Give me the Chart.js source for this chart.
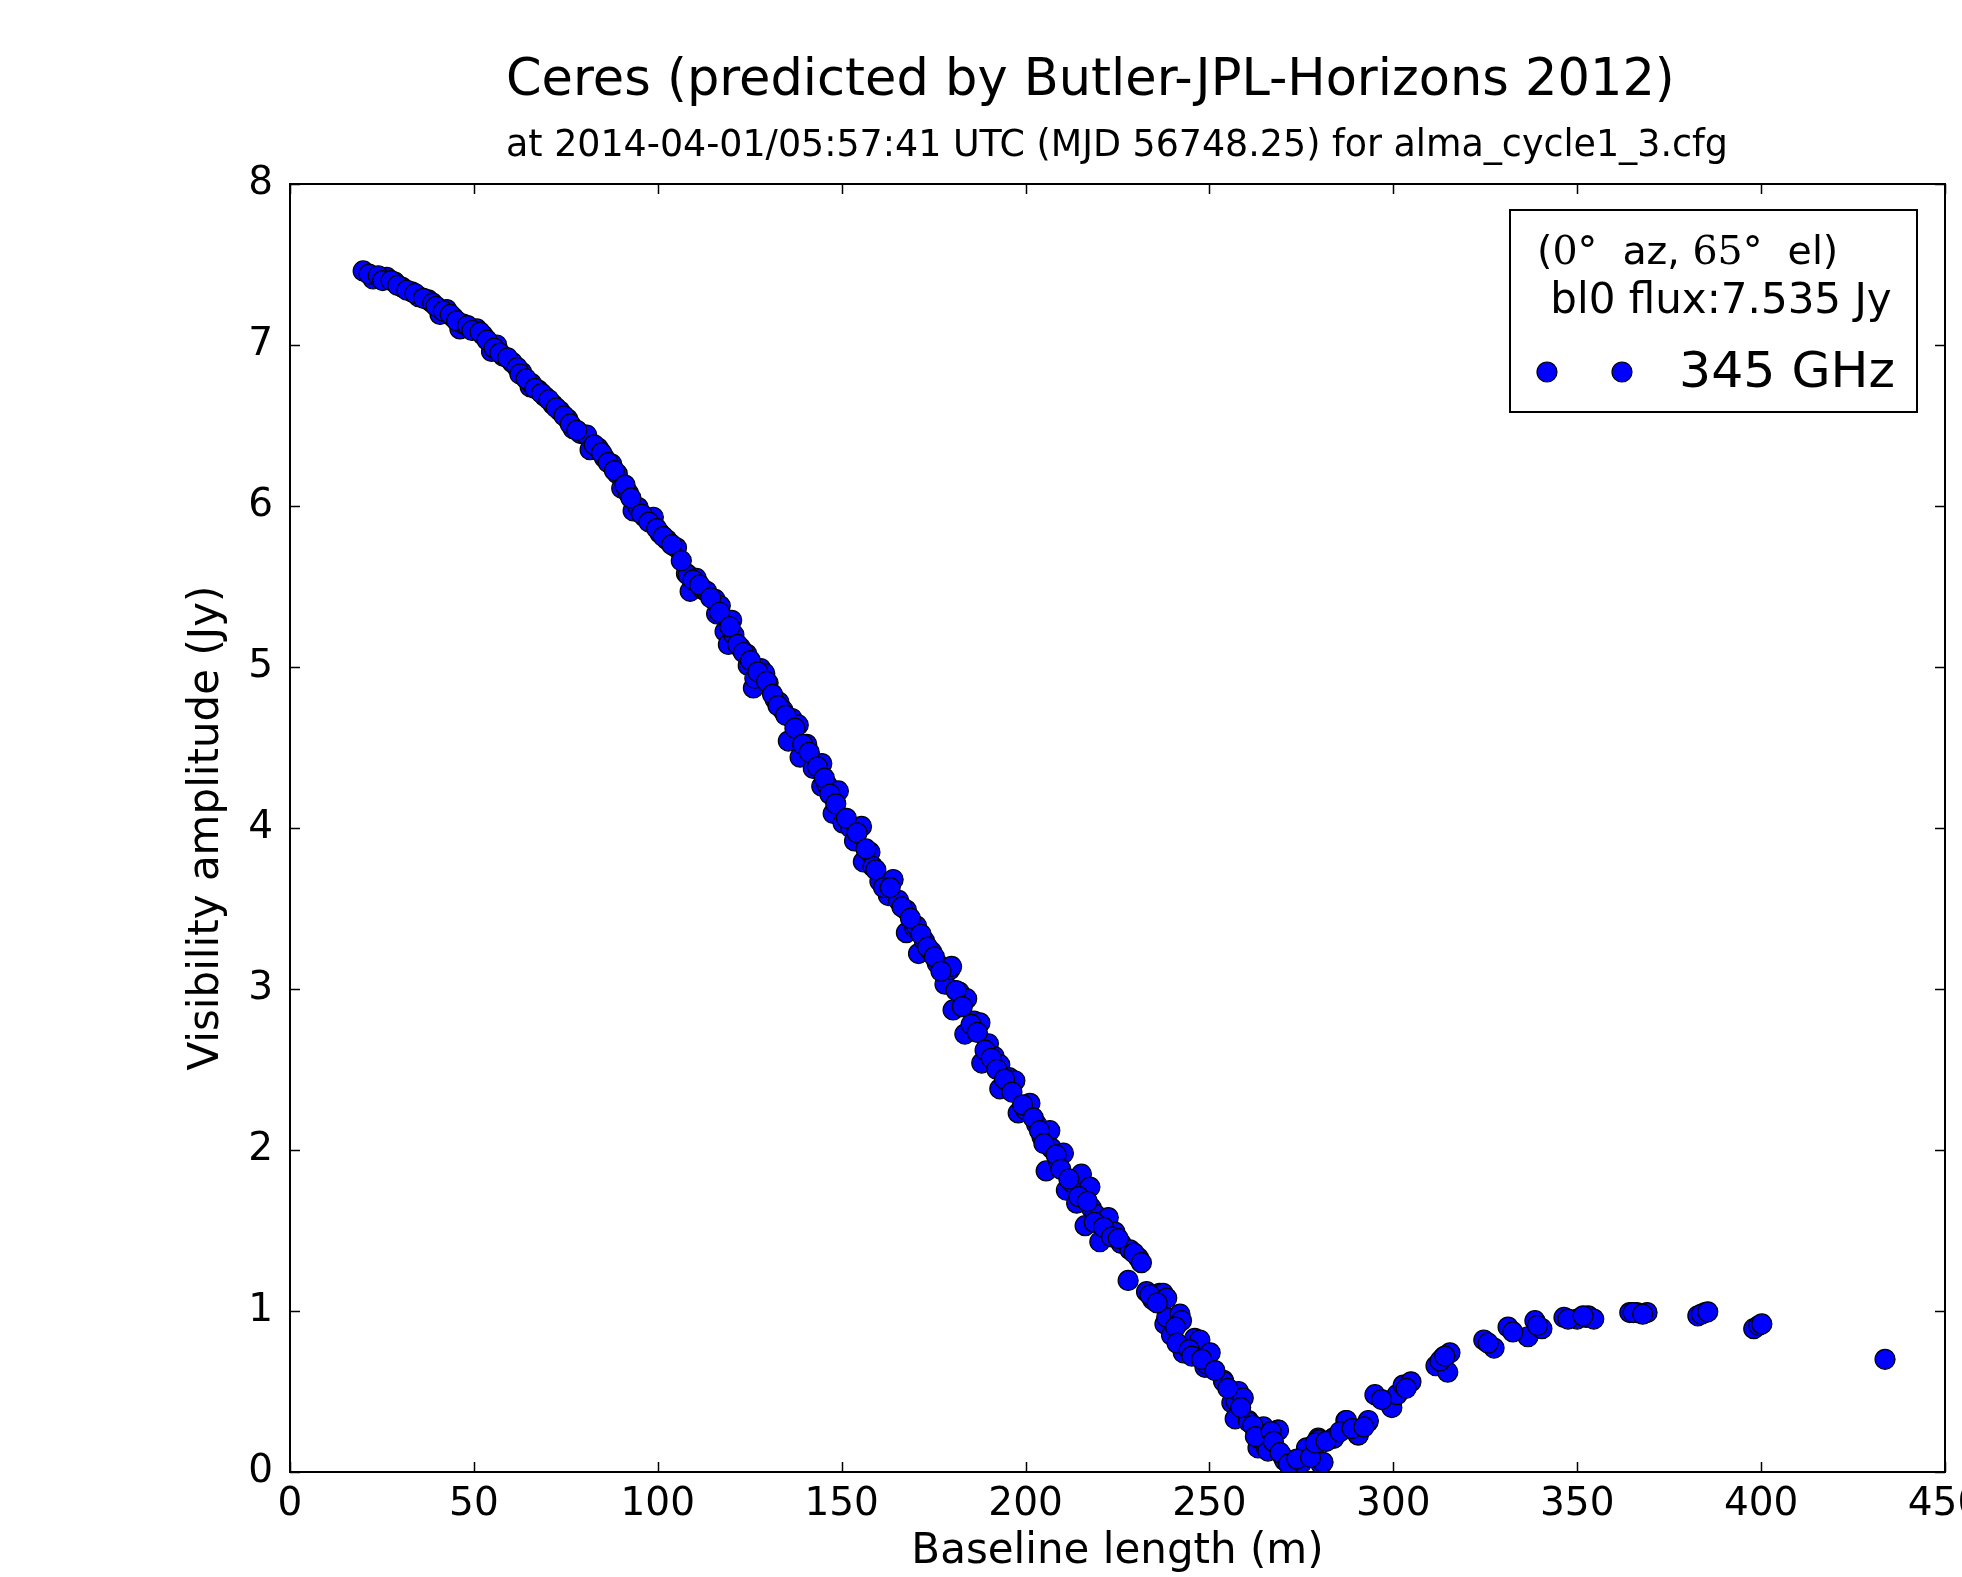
<!DOCTYPE html>
<html lang="en">
<head>
    <meta charset="UTF-8">
    <title>Ceres visibility amplitude</title>
    <script src="https://cdn.jsdelivr.net/npm/chart.js"></script>
    <style>
        body { margin: 0; background: #fff; }
        canvas { display: block; }
    </style>
</head>
<body>
    <canvas id="visChart" width="1962" height="1577"></canvas>

    <script>
        // Baseline length (m) and visibility amplitude (Jy)
        const baseline = [
            19.9, 22.6, 26.3, 28.5, 30.4, 33.1, 35.0, 37.6, 40.8, 42.6, 44.5, 46.2, 47.1, 50.8, 52.5,
            54.8, 56.2, 58.0, 60.5, 63.0, 65.3, 65.7, 67.5, 69.3, 71.5, 73.4, 75.5, 77.0, 79.0, 80.7,
            81.6, 83.8, 85.5, 87.5, 89.0, 90.2, 92.0, 93.3, 94.7, 96.5, 98.8, 100.6, 102.5, 105.1, 107.8,
            108.3, 108.8, 110.5, 112.4, 113.3, 115.6, 116.0, 117.0, 118.3, 119.2, 120.1, 120.7, 122.5, 124.2, 124.6,
            126.0, 126.4, 128.0, 129.1, 130.0, 131.9, 133.0, 134.1, 135.5, 136.5, 138.2, 138.7, 140.5, 142.3, 144.6,
            144.6, 146.0, 147.7, 149.1, 150.4, 152.5, 153.5, 155.4, 155.9, 157.7, 158.5, 160.4, 162.7, 164.0, 165.5,
            167.6, 167.6, 169.9, 170.4, 170.9, 172.5, 174.5, 176.0, 178.1, 179.4, 179.9, 180.3, 182.0, 183.5, 184.0,
            186.0, 187.6, 188.1, 189.9, 191.5, 193.0, 193.0, 195.5, 197.1, 198.0, 200.0, 201.2, 203.0, 204.5, 205.6,
            206.6, 207.1, 209.0, 210.3, 211.1, 212.5, 213.9, 215.2, 216.2, 217.5, 217.9, 219.0, 220.2, 222.5, 224.3,
            226.0, 227.9, 228.4, 230.7, 232.9, 234.6, 236.5, 237.4, 237.9, 238.4, 238.4, 239.7, 242.0, 242.4, 242.9,
            246.0, 247.4, 248.8, 249.3, 250.2, 253.8, 253.9, 256.1, 257.0, 257.2, 257.9, 259.2, 260.6, 260.7, 263.2,
            263.4, 264.5, 264.7, 265.5, 265.9, 268.6, 268.8, 270.1, 270.5, 275.1, 275.2, 276.4, 278.4, 279.6, 279.8,
            280.3, 280.9, 283.7, 283.8, 287.1, 287.3, 290.4, 290.5, 293.1, 293.2, 295.0, 299.5, 299.6, 301.0, 302.7,
            304.8, 311.6, 313.5, 314.8, 315.4, 324.6, 327.4, 331.2, 336.6, 338.5, 340.4, 346.4, 350.0, 352.4, 353.0,
            354.5, 364.3, 366.2, 369.0, 382.8, 384.8, 398.0, 399.4, 433.7,
            // second pass through the dense band
            21.5, 24.0, 25.2, 27.5, 29.3, 31.8, 34.0, 36.3, 38.8, 39.7, 41.7, 43.6, 45.3, 48.3, 49.5,
            51.7, 53.6, 55.5, 57.1, 59.2, 61.8, 62.5, 64.2, 66.6, 68.4, 70.4, 72.4, 74.5, 76.2, 78.0,
            82.7, 84.7, 86.5, 88.2, 91.1, 92.7, 95.6, 97.6, 99.7, 101.5, 103.8, 106.4, 109.6, 111.4, 114.4,
            116.8, 119.6, 121.7, 123.3, 125.2, 127.2, 129.6, 131.2, 132.7, 134.8, 137.3, 139.4, 141.2, 143.4, 145.3,
            146.8, 148.4, 151.3, 154.2, 156.6, 159.3, 161.4, 163.2, 166.4, 168.7, 171.6, 173.4, 175.2, 177.0, 181.1,
            182.8, 185.2, 186.9, 189.0, 190.7, 192.2, 194.3, 196.3, 199.2, 202.1, 203.8, 205.0, 208.3, 209.6, 211.8,
            214.5, 216.8, 218.7, 221.2, 223.4, 225.2, 229.5, 231.5, 233.8, 235.8, 240.8, 241.2, 244.5, 245.2, 247.9,
            251.5, 255.0, 258.5, 261.8, 262.5, 266.8, 267.4, 269.2, 271.5, 273.8, 277.5, 278.8, 281.7, 285.5, 288.8,
            292.0, 296.8, 303.5, 312.7, 314.0, 325.8, 332.5, 339.2, 347.5, 351.6, 365.2, 367.8, 383.8, 385.5, 400.2
        ];
        const amplitude = [
            7.46, 7.41, 7.42, 7.39, 7.36, 7.33, 7.30, 7.28, 7.19, 7.22, 7.17, 7.10, 7.13, 7.10, 7.06,
            6.96, 7.00, 6.93, 6.89, 6.83, 6.74, 6.76, 6.72, 6.68, 6.63, 6.59, 6.54, 6.48, 6.45, 6.44,
            6.35, 6.36, 6.30, 6.26, 6.20, 6.11, 6.08, 5.97, 5.99, 5.93, 5.93, 5.83, 5.79, 5.74, 5.58,
            5.57, 5.47, 5.55, 5.48, 5.47, 5.42, 5.33, 5.38, 5.22, 5.14, 5.29, 5.20, 5.12, 5.08, 5.01,
            4.87, 4.93, 4.99, 4.96, 4.90, 4.80, 4.78, 4.73, 4.54, 4.68, 4.64, 4.44, 4.52, 4.37, 4.40,
            4.26, 4.27, 4.09, 4.23, 4.03, 4.00, 3.92, 4.01, 3.79, 3.85, 3.76, 3.67, 3.58, 3.68, 3.55,
            3.49, 3.35, 3.38, 3.39, 3.22, 3.30, 3.23, 3.16, 3.03, 3.12, 3.14, 2.87, 2.98, 2.72, 2.94,
            2.80, 2.79, 2.54, 2.66, 2.58, 2.53, 2.38, 2.45, 2.43, 2.23, 2.25, 2.29, 2.16, 2.08, 1.87,
            2.12, 2.01, 1.93, 1.98, 1.75, 1.80, 1.67, 1.85, 1.53, 1.77, 1.64, 1.60, 1.43, 1.58, 1.49,
            1.42, 1.19, 1.38, 1.33, 1.12, 1.07, 1.11, 1.11, 0.92, 0.96, 1.08, 0.85, 0.98, 0.94, 0.74,
            0.83, 0.82, 0.65, 0.67, 0.74, 0.57, 0.56, 0.43, 0.33, 0.44, 0.50, 0.46, 0.32, 0.31, 0.15,
            0.21, 0.27, 0.28, 0.15, 0.13, 0.26, 0.26, 0.09, 0.07, 0.07, 0.06, 0.15, 0.11, 0.21, 0.20,
            0.05, 0.06, 0.21, 0.21, 0.32, 0.32, 0.23, 0.23, 0.31, 0.32, 0.48, 0.41, 0.40, 0.48, 0.54,
            0.56, 0.66, 0.71, 0.62, 0.74, 0.82, 0.77, 0.90, 0.84, 0.94, 0.89, 0.96, 0.95, 0.96, 0.97,
            0.95, 0.99, 0.99, 0.99, 0.97, 0.99, 0.89, 0.91, 0.70,
            // second pass through the dense band
            7.44, 7.43, 7.40, 7.40, 7.37, 7.34, 7.32, 7.29, 7.26, 7.24, 7.21, 7.19, 7.15, 7.12, 7.09,
            7.08, 7.03, 6.98, 6.95, 6.92, 6.86, 6.82, 6.79, 6.73, 6.70, 6.66, 6.61, 6.56, 6.51, 6.47,
            6.38, 6.33, 6.27, 6.22, 6.13, 6.05, 5.95, 5.90, 5.86, 5.81, 5.76, 5.66, 5.54, 5.51, 5.43,
            5.34, 5.25, 5.14, 5.09, 5.04, 4.97, 4.91, 4.83, 4.76, 4.70, 4.62, 4.52, 4.47, 4.38, 4.31,
            4.21, 4.15, 4.06, 3.97, 3.87, 3.74, 3.63, 3.63, 3.51, 3.44, 3.34, 3.26, 3.20, 3.11, 2.99,
            2.89, 2.78, 2.73, 2.62, 2.57, 2.50, 2.44, 2.36, 2.28, 2.20, 2.12, 2.04, 1.97, 1.88, 1.82,
            1.71, 1.68, 1.55, 1.52, 1.46, 1.45, 1.36, 1.30, 1.10, 1.05, 0.90, 0.80, 0.76, 0.72, 0.70,
            0.63, 0.52, 0.40, 0.29, 0.22, 0.25, 0.19, 0.12, 0.05, 0.08, 0.09, 0.18, 0.19, 0.25, 0.27,
            0.28, 0.45, 0.52, 0.69, 0.72, 0.80, 0.87, 0.91, 0.95, 0.97, 0.99, 0.98, 0.98, 0.995, 0.92
        ];
        const xTicks = [0, 50, 100, 150, 200, 250, 300, 350, 400, 450];
        const yTicks = [0, 1, 2, 3, 4, 5, 6, 7, 8];

        const titleText = "Ceres (predicted by Butler-JPL-Horizons 2012)";
        const subtitleText = "at 2014-04-01/05:57:41 UTC (MJD 56748.25) for alma_cycle1_3.cfg";
        const xLabel = "Baseline length (m)";
        const yLabel = "Visibility amplitude (Jy)";
        const seriesLabel = "345 GHz";
        const fluxText = " bl0 flux:7.535 Jy";

        const FONT = "'DejaVu Sans', sans-serif";
        const SERIF = "'DejaVu Serif', serif";

        const points = baseline.map((b, i) => ({ x: b, y: amplitude[i] }));

        // frame, inward ticks, titles and legend box (matplotlib look)
        const decorPlugin = {
            id: "decor",
            beforeDraw(chart) {
                const ctx = chart.ctx;
                ctx.save();
                ctx.fillStyle = "#fff";
                ctx.fillRect(0, 0, chart.width, chart.height);
                ctx.restore();
            },
            afterDatasetsDraw(chart) {
                const ctx = chart.ctx;
                const a = chart.chartArea;
                const xs = chart.scales.x, ys = chart.scales.y;
                ctx.save();

                // ticks
                ctx.strokeStyle = "#000";
                ctx.lineWidth = 1.5;
                ctx.beginPath();
                xTicks.forEach(v => {
                    const px = Math.round(xs.getPixelForValue(v)) + 0.5;
                    ctx.moveTo(px, a.bottom); ctx.lineTo(px, a.bottom - 10);
                    ctx.moveTo(px, a.top); ctx.lineTo(px, a.top + 10);
                });
                yTicks.forEach(v => {
                    const py = Math.round(ys.getPixelForValue(v)) + 0.5;
                    ctx.moveTo(a.left, py); ctx.lineTo(a.left + 10, py);
                    ctx.moveTo(a.right, py); ctx.lineTo(a.right - 10, py);
                });
                ctx.stroke();

                // frame
                ctx.lineWidth = 2;
                ctx.strokeRect(a.left, a.top, a.right - a.left, a.bottom - a.top);

                // titles
                ctx.fillStyle = "#000";
                ctx.textBaseline = "alphabetic";
                ctx.textAlign = "left";
                ctx.font = "51px " + FONT;
                ctx.fillText(titleText, 506, 95);
                ctx.font = "36.4px " + FONT;
                ctx.fillText(subtitleText, 506, 156);

                // axis titles
                ctx.textAlign = "center";
                ctx.textBaseline = "middle";
                ctx.font = "42px " + FONT;
                ctx.fillText(xLabel, (a.left + a.right) / 2, 1552);
                ctx.save();
                ctx.translate(207, (a.top + a.bottom) / 2);
                ctx.rotate(-Math.PI / 2);
                ctx.fillText(yLabel, 0, 0);
                ctx.restore();

                // legend
                const lx = 1510, ly = 210, lw = 407, lh = 202;
                ctx.fillStyle = "#fff";
                ctx.fillRect(lx, ly, lw, lh);
                ctx.lineWidth = 2;
                ctx.strokeRect(lx, ly, lw, lh);

                ctx.fillStyle = "#000";
                ctx.textAlign = "left";
                ctx.textBaseline = "middle";
                let cx = 1537;
                const parts = [
                    ["(", FONT], ["0\u00b0", SERIF], ["  az, ", FONT], ["65\u00b0", SERIF], ["  el)", FONT]
                ];
                parts.forEach(([t, f]) => {
                    ctx.font = "39.5px " + f;
                    ctx.fillText(t, cx, 254);
                    cx += ctx.measureText(t).width;
                });
                ctx.font = "42px " + FONT;
                ctx.fillText(fluxText, 1537, 302);

                ctx.fillStyle = "#0000ff";
                ctx.strokeStyle = "#000";
                ctx.lineWidth = 1.2;
                [1547, 1622].forEach(mx => {
                    ctx.beginPath();
                    ctx.arc(mx, 372, 10, 0, Math.PI * 2);
                    ctx.fill();
                    ctx.stroke();
                });
                ctx.fillStyle = "#000";
                ctx.font = "50.5px " + FONT;
                ctx.fillText(seriesLabel, 1679, 374);

                ctx.restore();
            }
        };

        const visConfig = {
            type: "scatter",
            data: {
                datasets: [{
                    label: seriesLabel,
                    data: points,
                    backgroundColor: "#0000ff",
                    borderColor: "#000000",
                    borderWidth: 1.2,
                    pointRadius: 10,
                    pointHoverRadius: 10,
                    clip: 0
                }]
            },
            options: {
                responsive: false,
                animation: false,
                devicePixelRatio: 1,
                layout: { padding: { top: 184, right: 17, left: 0, bottom: 0 } },
                plugins: {
                    legend: { display: false },
                    tooltip: { enabled: false }
                },
                scales: {
                    x: {
                        type: "linear",
                        min: 0,
                        max: 450,
                        afterBuildTicks: s => { s.ticks = xTicks.map(v => ({ value: v })); },
                        afterFit: s => { s.height = 105; s.paddingLeft = 0; s.paddingRight = 0; },
                        grid: { display: false, drawTicks: false },
                        border: { display: false },
                        ticks: {
                            color: "#000",
                            padding: 9,
                            maxRotation: 0,
                            autoSkip: false,
                            font: { family: FONT, size: 39 }
                        }
                    },
                    y: {
                        type: "linear",
                        min: 0,
                        max: 8,
                        afterBuildTicks: s => { s.ticks = yTicks.map(v => ({ value: v })); },
                        afterFit: s => { s.width = 290; s.paddingTop = 0; s.paddingBottom = 0; },
                        grid: { display: false, drawTicks: false },
                        border: { display: false },
                        ticks: {
                            color: "#000",
                            padding: 17,
                            autoSkip: false,
                            font: { family: FONT, size: 39 }
                        }
                    }
                }
            },
            plugins: [decorPlugin]
        };

        const visChart = new Chart(document.getElementById("visChart"), visConfig);
    </script>
</body>
</html>
